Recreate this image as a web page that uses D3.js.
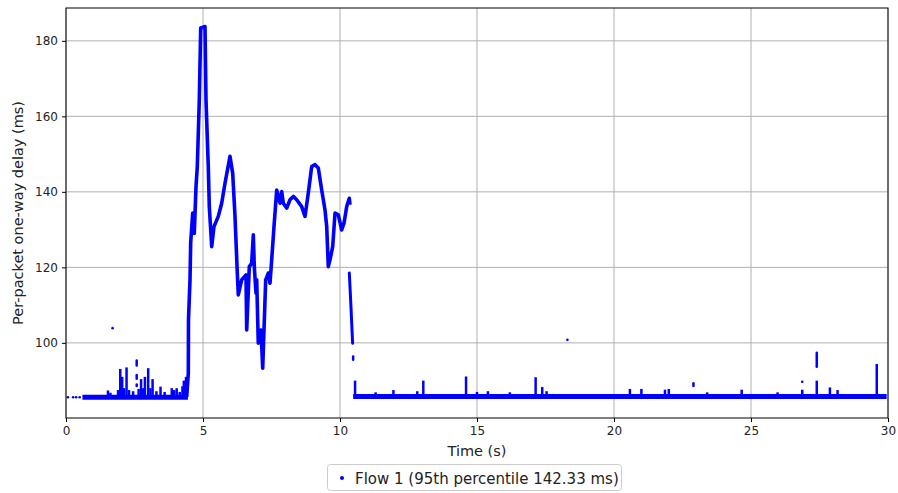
<!DOCTYPE html>
<html><head><meta charset="utf-8">
<script src="https://cdn.jsdelivr.net/npm/d3@7"></script>
<style>
body{margin:0;background:#fff;}
svg{display:block;}
text{font-family:"DejaVu Sans",sans-serif;fill:#222;}
</style>
</head><body>
<svg id="chart" width="898" height="493"></svg>
<script>
// ---- data ----
const xTicks = [0, 5, 10, 15, 20, 25, 30];
const yTicks = [100, 120, 140, 160, 180];
const xDomain = [0, 30];
const yDomain = [80.1, 188.7];
const seriesName = "Flow 1 (95th percentile 142.33 ms)";

// main congestion episode: [time s, delay ms]
const burstPoints = [
  [4.405, 85.7], [4.464, 92.0], [4.47, 106.0], [4.526, 116.7], [4.55, 126.5],
  [4.624, 134.4], [4.682, 129.0], [4.745, 141.4], [4.792, 146.7], [4.865, 164.4],
  [4.916, 183.4], [5.0, 183.6], [5.073, 183.8], [5.109, 164.4], [5.193, 146.7],
  [5.230, 136.1], [5.318, 125.5], [5.401, 130.8], [5.558, 133.5], [5.682, 137.0],
  [5.803, 142.3], [5.985, 149.4], [6.084, 144.9], [6.168, 133.5], [6.252, 118.5],
  [6.288, 112.7], [6.412, 116.7], [6.569, 118.0], [6.595, 103.4], [6.690, 120.2],
  [6.777, 121.1], [6.836, 128.6], [6.872, 120.2], [6.934, 113.2], [6.960, 116.7],
  [7.018, 99.9], [7.117, 103.4], [7.179, 93.3], [7.226, 103.4], [7.288, 116.7],
  [7.383, 118.5], [7.445, 115.8], [7.507, 122.0], [7.591, 130.8], [7.690, 140.5],
  [7.748, 138.8], [7.810, 137.0], [7.872, 140.1], [7.931, 137.0], [8.055, 135.7],
  [8.175, 137.9], [8.296, 138.8], [8.420, 137.9], [8.602, 136.1], [8.723, 133.5],
  [8.843, 139.7], [8.967, 146.7], [9.088, 147.2], [9.208, 146.3], [9.332, 140.5],
  [9.453, 135.2], [9.515, 130.8], [9.573, 120.2], [9.635, 122.0], [9.734, 125.5],
  [9.818, 134.4], [9.938, 133.9], [10.062, 129.9], [10.146, 131.7], [10.245, 136.1],
  [10.339, 138.3], [10.365, 136.6]
];
// drain back to base delay
const drainPoints = [[10.34, 118.5], [10.40, 109.6], [10.46, 99.9]];

// base-delay band segments: [start s, end s, delay ms]
const baseBands = [[0.6, 4.45, 85.6], [10.48, 29.95, 85.8]];

// short spikes above the base band: [time s, peak ms]
const spikes = [
  [1.53, 87.4], [1.62, 86.8], [1.9, 87.5], [1.98, 93.1], [2.05, 91.0], [2.12, 88.0],
  [2.21, 93.5], [2.3, 87.5], [2.45, 87.2], [2.65, 87.8], [2.74, 90.4], [2.82, 88.0],
  [2.88, 91.0], [3.0, 93.3], [3.08, 88.0], [3.16, 90.4], [3.3, 87.2], [3.45, 88.4],
  [3.6, 87.0], [3.86, 88.0], [3.95, 87.5], [4.04, 88.0], [4.15, 87.0], [4.25, 88.5],
  [4.3, 90.0], [4.38, 91.0],
  [10.55, 90.0], [11.3, 86.9], [11.95, 87.5], [12.82, 87.2], [13.04, 90.0], [14.6, 91.1],
  [15.0, 87.0], [15.4, 87.2], [16.2, 86.9], [17.14, 90.9], [17.38, 88.3], [17.54, 87.2],
  [20.58, 87.8], [21.0, 87.8], [21.86, 87.6], [22.0, 87.8], [23.4, 86.9], [24.66, 87.6],
  [25.97, 86.9], [26.87, 87.6], [27.4, 90.0], [27.88, 88.2], [28.16, 87.5], [29.59, 94.4]
];
// stacks of detached dots: [time s, low ms, high ms]
const dotStacks = [
  [2.58, 94.0, 95.3], [2.58, 90.5, 91.5], [2.58, 88.6, 89.0],
  [10.48, 95.5, 96.4], [22.9, 88.6, 89.3], [27.4, 93.7, 97.4]
];
// isolated single packets: [time s, delay ms]
const lonePoints = [
  [0.07, 85.6], [0.26, 85.6], [0.37, 85.6], [0.5, 85.6],
  [1.70, 103.9], [18.3, 100.8], [26.87, 89.7]
];

// ---- drawing ----
const W = 898, H = 493;
const m = {left: 66, right: 10, top: 8, bottom: 75};
const svg = d3.select("#chart");
const x = d3.scaleLinear().domain(xDomain).range([m.left, W - m.right]);
const y = d3.scaleLinear().domain(yDomain).range([H - m.bottom, m.top]);
const blue = "#0000ff";

// grid
const g = svg.append("g");
g.selectAll(".gx").data(xTicks).join("line")
  .attr("x1", d => x(d)).attr("x2", d => x(d))
  .attr("y1", m.top).attr("y2", H - m.bottom)
  .attr("stroke", "#b0b0b0").attr("stroke-width", 1);
g.selectAll(".gy").data(yTicks).join("line")
  .attr("x1", m.left).attr("x2", W - m.right)
  .attr("y1", d => y(d)).attr("y2", d => y(d))
  .attr("stroke", "#b0b0b0").attr("stroke-width", 1);

const plot = svg.append("g");
const line = d3.line().x(d => x(d[0])).y(d => y(d[1]));

// base bands
plot.selectAll(".band").data(baseBands).join("line")
  .attr("x1", d => x(d[0])).attr("x2", d => x(d[1]))
  .attr("y1", d => y(d[2])).attr("y2", d => y(d[2]))
  .attr("stroke", blue).attr("stroke-width", 5);

// spikes
plot.selectAll(".spike").data(spikes).join("line")
  .attr("x1", d => x(d[0])).attr("x2", d => x(d[0]))
  .attr("y1", d => y(85.7)).attr("y2", d => y(d[1]))
  .attr("stroke", blue).attr("stroke-width", 2.5);

// dot stacks
plot.selectAll(".stack").data(dotStacks).join("line")
  .attr("x1", d => x(d[0])).attr("x2", d => x(d[0]))
  .attr("y1", d => y(d[1])).attr("y2", d => y(d[2]))
  .attr("stroke", blue).attr("stroke-width", 2.5).attr("stroke-linecap", "round");

// burst traces
plot.append("path").datum(burstPoints).attr("d", line)
  .attr("fill", "none").attr("stroke", blue).attr("stroke-width", 3.6)
  .attr("stroke-linejoin", "round");
plot.append("path").datum(drainPoints).attr("d", line)
  .attr("fill", "none").attr("stroke", blue).attr("stroke-width", 3)
  .attr("stroke-linecap", "round");

// lone points
plot.selectAll(".lone").data(lonePoints).join("circle")
  .attr("cx", d => x(d[0])).attr("cy", d => y(d[1])).attr("r", 1.3)
  .attr("fill", blue);

// frame
svg.append("rect").attr("x", m.left).attr("y", m.top)
  .attr("width", W - m.right - m.left).attr("height", H - m.bottom - m.top)
  .attr("fill", "none").attr("stroke", "#000").attr("stroke-width", 1);

// axes
const xAxis = svg.append("g").attr("transform", `translate(0,${H - m.bottom})`)
  .call(d3.axisBottom(x).tickValues(xTicks).tickSize(4).tickPadding(4).tickFormat(d3.format("d")));
const yAxis = svg.append("g").attr("transform", `translate(${m.left},0)`)
  .call(d3.axisLeft(y).tickValues(yTicks).tickSize(4).tickPadding(4).tickFormat(d3.format("d")));
[xAxis, yAxis].forEach(a => {
  a.select(".domain").remove();
  a.selectAll("text").style("font-family", "DejaVu Sans").style("font-size", "12px").attr("fill", "#222");
  a.selectAll("line").attr("stroke", "#000");
});

// labels
svg.append("text").attr("x", (m.left + W - m.right) / 2).attr("y", 456)
  .attr("text-anchor", "middle").style("font-size", "14.5px").text("Time (s)");
svg.append("text").attr("transform", `translate(23,${(m.top + H - m.bottom) / 2}) rotate(-90)`)
  .attr("text-anchor", "middle").style("font-size", "14.5px").text("Per-packet one-way delay (ms)");

// legend
const lg = svg.append("g");
lg.append("rect").attr("x", 327.5).attr("y", 464.5).attr("width", 294).attr("height", 26)
  .attr("rx", 3).attr("fill", "#fff").attr("stroke", "#ccc");
lg.append("circle").attr("cx", 342).attr("cy", 478).attr("r", 2).attr("fill", blue);
lg.append("text").attr("x", 355).attr("y", 483.5).style("font-size", "15px").text(seriesName);
</script>
</body></html>
